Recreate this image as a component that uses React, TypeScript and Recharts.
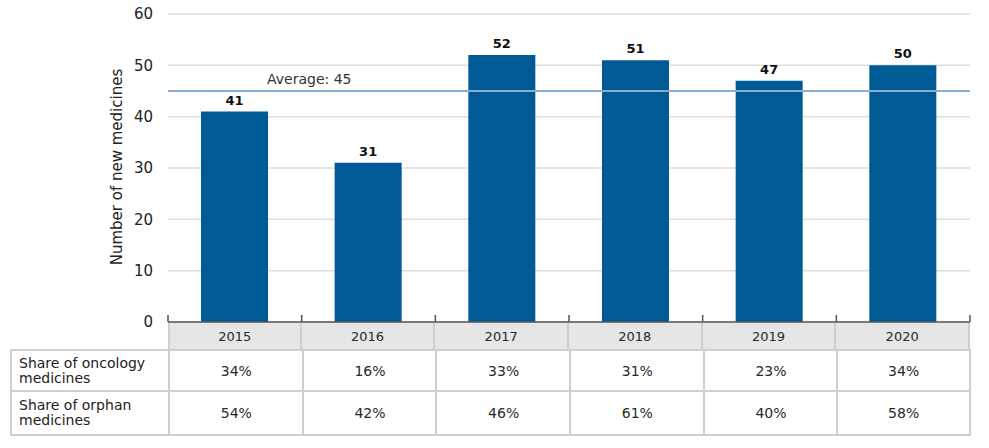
import React from 'react';
import {
  BarChart,
  Bar,
  XAxis,
  YAxis,
  CartesianGrid,
  ReferenceLine,
  LabelList
} from 'recharts';

const years = ['2015', '2016', '2017', '2018', '2019', '2020'];
const newMedicines = [41, 31, 52, 51, 47, 50];
const oncologyShare = ['34%', '16%', '33%', '31%', '23%', '34%'];
const orphanShare = ['54%', '42%', '46%', '61%', '40%', '58%'];
const averageValue = 45;
const yTicks = [0, 10, 20, 30, 40, 50, 60];
const rowLabels = ['Share of oncology\nmedicines', 'Share of orphan\nmedicines'];

const chartData = years.map((year, i) => ({ year, count: newMedicines[i] }));

const WIDTH = 989;
const HEIGHT = 448;
const PLOT_LEFT = 168;
const PLOT_RIGHT = 970;
const PLOT_TOP = 14;
const PLOT_BOTTOM = 322;
const BAND = (PLOT_RIGHT - PLOT_LEFT) / years.length;

const FONT = '"DejaVu Sans", "Open Sans", sans-serif';
const BORDER = '2px solid #cfcfcf';

const BoundaryTick = (props: any) => {
  const { x, index } = props;
  const half = BAND / 2;
  return (
    <g>
      <line x1={x - half} x2={x - half} y1={PLOT_BOTTOM - 7} y2={PLOT_BOTTOM} stroke="#555" strokeWidth={1.5} />
      {index === years.length - 1 && (
        <line x1={x + half} x2={x + half} y1={PLOT_BOTTOM - 7} y2={PLOT_BOTTOM} stroke="#555" strokeWidth={1.5} />
      )}
    </g>
  );
};

const AverageLabel = (props: any) => {
  const { viewBox } = props;
  return (
    <text x={viewBox.x + 99} y={viewBox.y - 7} fill="#333" fontSize={14} fontFamily={FONT}>
      Average: {averageValue}
    </text>
  );
};

const YLabel = () => (
  <text
    x={117}
    y={167}
    transform="rotate(-90 117 167)"
    textAnchor="middle"
    dominantBaseline="central"
    fill="#222"
    fontSize={15}
    fontFamily={FONT}
  >
    Number of new medicines
  </text>
);

const cellText: React.CSSProperties = {
  position: 'absolute',
  boxSizing: 'border-box',
  display: 'flex',
  alignItems: 'center',
  fontFamily: FONT,
  color: '#2a2a2a',
  fontSize: 14
};

const App = () => {
  const rows = [oncologyShare, orphanShare];
  const rowTops = [349, 392];
  const rowHeights = [43, 44];

  return (
    <div style={{ position: 'absolute', left: 0, top: 0, width: WIDTH, height: HEIGHT, background: '#fff' }}>
      <BarChart
        width={WIDTH}
        height={HEIGHT}
        data={chartData}
        margin={{ top: PLOT_TOP, right: WIDTH - PLOT_RIGHT, bottom: 0, left: 0 }}
      >
        <CartesianGrid vertical={false} stroke="#dedede" strokeWidth={1.5} />
        <XAxis
          dataKey="year"
          height={HEIGHT - PLOT_BOTTOM}
          axisLine={{ stroke: '#555', strokeWidth: 1.5 }}
          tickLine={false}
          tick={<BoundaryTick />}
          interval={0}
        />
        <YAxis
          width={PLOT_LEFT}
          domain={[0, 60]}
          ticks={yTicks}
          axisLine={false}
          tickLine={false}
          tickMargin={9}
          tick={{ fill: '#222', fontSize: 15, fontFamily: FONT }}
          label={<YLabel />}
        />
        <ReferenceLine y={averageValue} stroke="#8aadcb" strokeWidth={2} label={<AverageLabel />} />
        <Bar dataKey="count" fill="#005a96" barSize={67} isAnimationActive={false}>
          <LabelList
            dataKey="count"
            position="top"
            offset={7}
            fill="#111"
            fontSize={13}
            fontWeight={800}
            fontFamily={FONT}
          />
        </Bar>
      </BarChart>

      {years.map((year, i) => (
        <div
          key={year}
          style={{
            ...cellText,
            left: PLOT_LEFT + i * BAND,
            top: PLOT_BOTTOM + 1,
            width: BAND,
            height: 349 - PLOT_BOTTOM,
            background: '#e6e6e6',
            borderRight: BORDER,
            borderLeft: i === 0 ? BORDER : undefined,
            justifyContent: 'center',
            fontSize: 13
          }}
        >
          {year}
        </div>
      ))}

      {rows.map((row, r) => (
        <React.Fragment key={r}>
          <div
            style={{
              ...cellText,
              left: 10,
              top: rowTops[r],
              width: PLOT_LEFT - 10 + 1,
              height: rowHeights[r],
              borderLeft: BORDER,
              borderTop: r === 0 ? BORDER : undefined,
              borderBottom: BORDER,
              paddingLeft: 7,
              whiteSpace: 'pre-line',
              lineHeight: '15px',
              color: '#222'
            }}
          >
            {rowLabels[r]}
          </div>
          {row.map((v, i) => (
            <div
              key={i}
              style={{
                ...cellText,
                left: PLOT_LEFT + i * BAND,
                top: rowTops[r],
                width: BAND + 1,
                height: rowHeights[r],
                borderLeft: BORDER,
                borderRight: i === row.length - 1 ? BORDER : undefined,
                borderTop: r === 0 ? BORDER : undefined,
                borderBottom: BORDER,
                justifyContent: 'center'
              }}
            >
              {v}
            </div>
          ))}
        </React.Fragment>
      ))}
    </div>
  );
};

export default App;
